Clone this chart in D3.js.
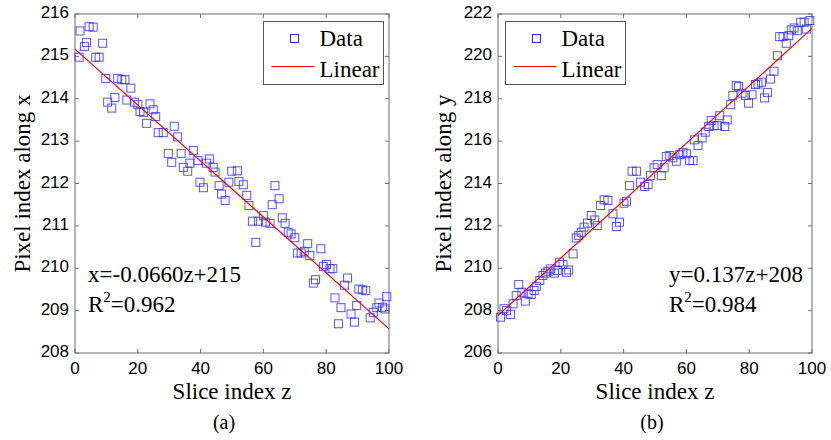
<!DOCTYPE html>
<html lang="en">
<head>
  <meta charset="UTF-8">
  <title>Pixel index vs slice index</title>
  <script src="https://d3js.org/d3.v7.min.js"></script>
  <style>
    body { margin: 0; background: #fff; }
  </style>
</head>
<body>
<script>
// panel (a): pixel index along x
var sliceA = [1.3, 1.6, 3, 3.7, 4.5, 5.8, 6.6, 7.7, 8.8, 9.8, 10.4, 11.7, 12.7, 13.6, 14.9, 15.9, 16.5, 17.8, 18.9, 20,
  20.7, 21.8, 22.8, 23.9, 24.9, 25.7, 26.5, 28.1, 29.7, 30.8, 31.6, 32.7, 33.8, 34.5, 35.9, 36.6, 37.7, 39.1, 39.8, 40.9,
  41.9, 42.8, 44, 44.6, 45.9, 46.7, 47.8, 49, 49.9, 51.7, 52.2, 53.6, 54.7, 55.4, 56.5, 57.6, 58.4, 60, 60.7, 62.1,
  62.8, 63.7, 65, 66, 66.9, 67.9, 68.8, 70, 70.9, 72, 73, 74.1, 74.8, 75.9, 76.6, 78.3, 79.1, 80.1, 81.2, 82.1,
  82.8, 83.9, 84.7, 85.8, 86.8, 87.9, 89, 89.7, 90.4, 91.5, 92.6, 94, 95, 96.1, 96.8, 97.9, 98.7, 99.3];
var pixelX = [214.98, 215.6, 215.23, 215.33, 215.7, 215.69, 214.98, 214.98, 215.31, 214.48, 213.92, 213.78, 214.03, 214.48, 214.45, 214.45, 213.97, 214.25, 213.92, 213.86,
  213.7, 213.68, 213.42, 213.88, 213.74, 213.58, 213.2, 213.2, 212.71, 212.5, 213.35, 213.1, 212.71, 212.38, 212.29, 212.48, 212.78, 212.54, 212.03, 211.9,
  212.48, 212.58, 212.38, 212.27, 211.95, 211.75, 211.6, 212.03, 212.29, 212.3, 212.05, 211.97, 211.72, 211.48, 211.11, 210.61, 211.11, 211.24, 211.09, 211.06,
  211.5, 211.95, 211.64, 211.19, 211.06, 210.85, 210.81, 210.72, 210.36, 210.36, 210.4, 210.58, 210.3, 209.65, 209.73, 210.46, 210.04, 210.09, 209.99, 209.99,
  209.3, 208.69, 209.07, 209.6, 209.77, 208.92, 208.73, 209.12, 209.51, 209.49, 209.47, 208.83, 208.96, 209.07, 209.18, 209.08, 209.04, 209.33];
var fitA = { intercept: 215.17, slope: -0.066 };
var yTicksA = [208, 209, 210, 211, 212, 213, 214, 215, 216];

// panel (b): pixel index along y
var sliceB = [0.8, 1.9, 2.7, 4, 4.8, 5.8, 6.6, 7.6, 8.7, 9.6, 10.6, 11.5, 12.2, 13.3, 14.3, 15.1, 15.9, 16.8, 18, 18.9,
  19.6, 20.7, 21.8, 22.5, 23.9, 24.9, 25.7, 26.5, 27.4, 28.5, 29.7, 30.8, 31.6, 32.7, 33.8, 35, 36.6, 37.7, 38.7, 40.1,
  40.9, 41.9, 42.7, 44.1, 45.4, 46.7, 47.8, 48.6, 49.7, 50.7, 52, 52.9, 53.6, 54.7, 55.7, 56.8, 57.9, 58.9, 60, 61,
  62.1, 62.6, 63.7, 65, 66, 67.1, 67.9, 68.8, 69.9, 70.6, 72.2, 73, 74.1, 74.8, 75.9, 76.6, 77.7, 78.8, 79.8, 80.9,
  82, 82.8, 83.9, 84.9, 85.8, 86.8, 87.9, 89, 89.7, 90.8, 91.8, 92.6, 93.4, 94.3, 95.3, 96.4, 97.5, 98.2, 99.3];
var pixelY = [207.69, 208.09, 208.0, 207.82, 208.32, 208.71, 209.23, 208.87, 208.45, 208.79, 208.76, 208.95, 209.14, 209.42, 209.66, 209.77, 209.86, 209.97, 209.77, 209.89,
  210.29, 210.18, 209.81, 209.92, 210.68, 211.43, 211.54, 211.7, 211.94, 212.13, 212.49, 212.28, 212.02, 212.96, 213.23, 213.2, 212.57, 211.97, 212.17, 213.07,
  213.16, 213.9, 214.58, 214.58, 214.06, 213.86, 213.95, 214.37, 214.74, 214.89, 214.37, 214.74, 215.27, 215.32, 215.21, 215.05, 215.36, 215.47, 215.4, 215.08,
  215.08, 216.06, 215.79, 216.15, 216.42, 216.69, 216.97, 216.73, 216.73, 217.2, 216.69, 217.0, 217.72, 218.15, 218.62, 218.57, 218.26, 218.15, 217.79, 218.19,
  218.67, 218.7, 218.78, 218.04, 218.3, 218.93, 219.3, 220.03, 220.93, 220.93, 220.62, 220.98, 221.25, 221.34, 221.21, 221.61, 221.61, 221.29, 221.69];
var fitB = { intercept: 207.77, slope: 0.1355 };
var yTicksB = [206, 208, 210, 212, 214, 216, 218, 220, 222];

var xTicks = [0, 20, 40, 60, 80, 100];

var W = 831, H = 440;
var serif = "'Liberation Serif', 'Times New Roman', serif";
var sans = "'Liberation Sans', Arial, sans-serif";
var fs = 23;

var svg = d3.select("body").append("svg")
  .attr("width", W).attr("height", H);

function drawPanel(p) {
  var x = d3.scaleLinear().domain([0, 100]).range([p.x0, p.x1]);
  var y = d3.scaleLinear().domain(p.yDomain).range([p.y1, p.y0]);
  var g = svg.append("g");

  // ticks pointing inward on all four sides
  var tl = 4;
  var frame = g.append("g").attr("stroke", "#6e6e6e").attr("stroke-width", 1);
  xTicks.forEach(function(t) {
    frame.append("line").attr("x1", x(t)).attr("x2", x(t)).attr("y1", p.y1).attr("y2", p.y1 - tl);
    frame.append("line").attr("x1", x(t)).attr("x2", x(t)).attr("y1", p.y0).attr("y2", p.y0 + tl);
  });
  p.yTicks.forEach(function(t) {
    frame.append("line").attr("x1", p.x0).attr("x2", p.x0 + tl).attr("y1", y(t)).attr("y2", y(t));
    frame.append("line").attr("x1", p.x1).attr("x2", p.x1 - tl).attr("y1", y(t)).attr("y2", y(t));
  });

  g.selectAll("text.xt").data(xTicks).enter().append("text")
    .attr("x", function(d) { return x(d); })
    .attr("y", p.y1 + 21)
    .attr("text-anchor", "middle")
    .attr("font-family", sans).attr("font-size", 17)
    .text(function(d) { return d; });
  g.selectAll("text.yt").data(p.yTicks).enter().append("text")
    .attr("x", p.x0 - 6)
    .attr("y", function(d) { return y(d) + 4; })
    .attr("text-anchor", "end")
    .attr("font-family", sans).attr("font-size", 17)
    .text(function(d) { return d; });

  // data squares
  var s = 8;
  g.append("g").selectAll("rect").data(p.z).enter().append("rect")
    .attr("x", function(d) { return x(d) - s / 2; })
    .attr("y", function(d, i) { return y(p.v[i]) - s / 2; })
    .attr("width", s).attr("height", s)
    .attr("fill", "none").attr("stroke", "#2a2aff").attr("stroke-width", 1)
    .attr("stroke-opacity", 0.8);

  // fitted line
  g.append("line")
    .attr("x1", x(0)).attr("y1", y(p.fit.intercept))
    .attr("x2", x(100)).attr("y2", y(p.fit.intercept + 100 * p.fit.slope))
    .attr("stroke", "#ff0000").attr("stroke-width", 1.2);

  frame.append("rect").attr("x", p.x0).attr("y", p.y0)
    .attr("width", p.x1 - p.x0).attr("height", p.y1 - p.y0)
    .attr("fill", "none");

  // legend
  var lg = g.append("g").attr("transform", "translate(" + p.legX + ",21.5)");
  lg.append("rect").attr("width", 120).attr("height", 63)
    .attr("fill", "#fff").attr("stroke", "#555").attr("stroke-width", 1);
  lg.append("rect").attr("x", 27).attr("y", 13).attr("width", 8).attr("height", 8)
    .attr("fill", "none").attr("stroke", "#2a2aff");
  lg.append("line").attr("x1", 8).attr("x2", 51).attr("y1", 45).attr("y2", 45)
    .attr("stroke", "#ff0000").attr("stroke-width", 1.2);
  lg.append("text").attr("x", 56).attr("y", 24.5)
    .attr("font-family", serif).attr("font-size", fs).text("Data");
  lg.append("text").attr("x", 56).attr("y", 55.5)
    .attr("font-family", serif).attr("font-size", fs).text("Linear");

  // fit annotation
  g.append("text").attr("x", p.annX).attr("y", 282)
    .attr("font-family", serif).attr("font-size", fs).text(p.eq);
  var r = g.append("text").attr("x", p.annX).attr("y", 312)
    .attr("font-family", serif).attr("font-size", fs);
  r.append("tspan").text("R");
  r.append("tspan").attr("dy", -10).attr("font-size", 15).text("2");
  r.append("tspan").attr("dy", 10).text("=" + p.r2);

  // axis titles
  g.append("text").attr("x", (p.x0 + p.x1) / 2).attr("y", 399)
    .attr("text-anchor", "middle")
    .attr("font-family", serif).attr("font-size", fs).text("Slice index z");
  g.append("text")
    .attr("transform", "translate(" + p.ylabX + "," + (p.y0 + p.y1) / 2 + ") rotate(-90)")
    .attr("text-anchor", "middle")
    .attr("font-family", serif).attr("font-size", fs).text(p.ylab);
  g.append("text").attr("x", p.capX).attr("y", 429)
    .attr("text-anchor", "middle")
    .attr("font-family", serif).attr("font-size", 20).text(p.cap);
}

drawPanel({
  x0: 75, x1: 389, y0: 14, y1: 353,
  yDomain: [208, 216], yTicks: yTicksA,
  z: sliceA, v: pixelX, fit: fitA,
  legX: 263.5, annX: 88,
  eq: "x=-0.0660z+215", r2: "0.962",
  ylab: "Pixel index along x", ylabX: 30, cap: "(a)", capX: 224
});

drawPanel({
  x0: 498, x1: 812, y0: 14, y1: 353,
  yDomain: [206, 222], yTicks: yTicksB,
  z: sliceB, v: pixelY, fit: fitB,
  legX: 505.5, annX: 669,
  eq: "y=0.137z+208", r2: "0.984",
  ylab: "Pixel index along y", ylabX: 451, cap: "(b)", capX: 652
});
</script>
</body>
</html>
